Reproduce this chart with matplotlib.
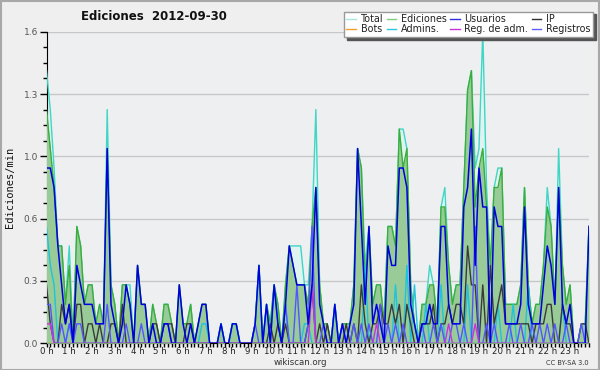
import numpy as np
import matplotlib
matplotlib.use("Agg")
import matplotlib.pyplot as plt
from matplotlib.ticker import MultipleLocator, FixedLocator, FuncFormatter
from matplotlib.patches import Rectangle
from matplotlib.lines import Line2D

# ---- data: counts per 10-minute bin (144 bins, 00:00 .. 23:50) ----
hour_labels = [f"{h} h" for h in range(24)]

total = [14,12,9,5,5,2,5,0,6,5,2,3,
         3,1,2,1,12,3,2,0,3,3,3,0,
         4,2,2,0,2,1,0,2,2,1,0,3,
         1,1,2,0,1,2,2,0,0,0,1,0,
         0,1,1,0,0,0,0,1,4,0,2,1,
         3,2,0,3,5,5,5,5,3,3,6,12,
         3,1,1,0,2,0,1,1,1,3,10,9,
         4,6,2,3,3,1,6,6,5,11,11,10,
         3,1,0,2,2,4,3,1,7,8,4,2,
         3,3,8,13,14,9,10,16,8,4,8,9,
         9,2,2,2,2,3,8,3,1,2,2,4,
         8,6,2,10,4,2,3,0,0,1,1,6]

ediciones = [12,10,8,5,5,2,4,0,6,5,2,3,
             3,1,2,1,10,3,2,0,3,3,2,0,
             4,2,2,0,2,1,0,2,2,1,0,3,
             1,1,2,0,1,2,2,0,0,0,1,0,
             0,1,1,0,0,0,0,1,4,0,2,1,
             3,2,0,3,5,4,3,3,3,2,6,8,
             3,1,1,0,2,0,1,1,1,3,10,9,
             3,6,2,3,3,1,6,6,5,11,9,10,
             3,1,0,2,2,3,3,1,7,7,4,2,
             3,3,8,13,14,7,9,10,7,4,8,8,
             9,2,2,2,2,3,8,3,1,2,2,4,
             7,6,2,8,4,2,3,0,0,1,1,6]

usuarios = [9,9,8,5,3,1,2,0,4,3,2,2,
            2,1,1,1,10,2,1,0,1,3,2,0,
            4,2,2,0,1,0,0,1,1,0,0,3,
            1,0,1,0,1,2,2,0,0,0,1,0,
            0,1,1,0,0,0,0,1,4,0,2,0,
            3,1,0,2,5,4,3,3,3,1,3,8,
            2,1,0,0,2,0,1,0,1,2,10,6,
            2,6,1,2,1,0,5,4,4,9,9,8,
            2,1,0,1,1,2,1,1,6,6,2,1,
            1,1,7,8,11,4,9,7,7,0,7,6,
            6,1,1,1,1,2,7,2,1,1,1,3,
            5,4,2,8,2,1,2,0,0,0,0,6]

ip = [3,1,0,0,2,1,2,0,2,2,0,1,
      1,0,1,0,0,1,1,0,2,0,0,0,
      0,0,0,0,1,1,0,1,1,1,0,0,
      0,1,1,0,0,0,0,0,0,0,0,0,
      0,0,0,0,0,0,0,0,0,0,0,1,
      0,1,0,1,0,0,0,0,0,1,3,0,
      1,0,1,0,0,0,0,1,0,1,0,3,
      1,0,1,1,2,1,1,2,1,2,0,2,
      1,0,0,1,1,1,2,0,1,1,2,1,
      2,2,1,5,3,3,0,3,0,4,1,2,
      3,1,1,1,1,1,1,1,0,1,1,1,
      2,2,0,0,2,1,1,0,0,1,1,0]

bots = [0] * 144

admins = [6,4,3,0,0,0,1,0,0,0,0,0,
          0,0,0,0,0,0,0,0,0,0,0,0,
          0,0,0,0,0,0,0,0,0,0,0,0,
          0,0,0,0,0,1,1,0,0,0,1,0,
          0,1,1,0,0,0,0,1,4,0,2,0,
          3,1,0,2,0,0,0,0,1,1,0,0,
          0,0,0,0,2,0,0,0,0,0,0,0,
          4,0,0,0,0,0,0,0,3,0,0,4,
          0,3,0,0,2,0,0,0,3,0,0,0,
          0,0,0,3,0,0,0,0,0,0,0,2,
          0,0,0,2,0,0,0,3,0,0,0,0,
          0,0,0,0,2,0,0,0,0,0,0,0]

reg_adm = [1,1,0,0,0,0,0,0,0,0,0,0,
           0,0,0,0,0,0,0,0,0,0,0,0,
           0,0,0,0,0,0,0,0,0,0,0,0,
           0,0,0,0,0,0,0,0,0,0,0,0,
           0,0,0,0,0,0,0,0,0,0,0,0,
           0,0,0,0,0,0,0,0,0,0,3,0,
           0,0,0,0,0,0,0,0,0,0,0,0,
           0,0,0,1,0,0,0,0,0,0,0,0,
           0,0,0,0,0,0,0,0,0,0,1,0,
           0,0,0,0,0,1,0,0,0,0,0,0,
           0,0,0,0,0,0,0,0,0,0,0,0,
           0,0,0,0,0,0,0,0,0,0,0,0]

registros = [2,2,0,0,1,0,1,0,1,1,0,0,
             0,0,0,0,2,0,0,0,0,1,0,0,
             0,1,0,0,0,0,0,1,1,0,0,0,
             0,0,0,0,0,0,0,0,0,0,0,0,
             0,0,0,0,0,0,0,1,0,0,0,0,
             0,0,0,2,0,0,3,0,0,1,6,0,
             0,1,0,0,0,0,1,0,0,1,0,1,
             0,1,0,0,2,0,1,0,1,0,1,0,
             0,0,0,1,0,0,1,0,1,0,0,1,
             1,0,1,0,0,6,0,0,1,0,1,0,
             0,0,1,0,0,1,0,0,1,0,1,0,
             1,0,1,0,0,1,0,0,0,1,0,0]

BIN_MIN = 10.0
x = np.arange(len(total))
def per_min(v):
    return np.asarray(v, dtype=float) / BIN_MIN

# ---- figure ----
fig = plt.figure(figsize=(6.0, 3.7), dpi=100, facecolor="#efefef")
ax = fig.add_axes([46.5/600, 1 - 343.3/370, (589 - 46.5)/600, (343.3 - 31.7)/370])
ax.set_facecolor("#eeeff1")

ymax = 1.6
ax.set_xlim(0, len(total) - 1)
ax.set_ylim(0, ymax)

major_y = np.linspace(0, ymax, 6)
ax.yaxis.set_major_locator(FixedLocator(major_y))
ax.yaxis.set_minor_locator(MultipleLocator(ymax / 20))
ax.yaxis.set_major_formatter(FuncFormatter(lambda v, p: f"{v:.1f}"))
ax.grid(axis="y", color="#c8c8c8", linewidth=1.0)
ax.set_axisbelow(True)

ax.xaxis.set_major_locator(FixedLocator(np.arange(0, 144, 6)))
ax.xaxis.set_minor_locator(MultipleLocator(1))
ax.set_xticklabels(hour_labels)

t = per_min(total); e = per_min(ediciones)
ax.fill_between(x, 0, t, color="#dff4f1", lw=0, zorder=2)
ax.plot(x, t, color="#3fd6c6", lw=1.0, zorder=3)
ax.fill_between(x, 0, e, color="#98cb98", lw=0, zorder=4)
ax.plot(x, e, color="#3aae3a", lw=1.0, zorder=5)
ax.plot(x, per_min(admins), color="#1ec3dc", lw=1.0, zorder=6)
ax.plot(x, per_min(bots), color="#f0a030", lw=1.0, zorder=6)
ax.plot(x, per_min(ip), color="#3a3a3a", lw=1.0, zorder=7)
ax.plot(x, per_min(registros), color="#5555ff", lw=1.0, zorder=7)
ax.plot(x, per_min(reg_adm), color="#cc33dd", lw=1.0, zorder=8)
ax.plot(x, per_min(usuarios), color="#0000dd", lw=1.1, zorder=9)

for s in ["top", "right"]:
    ax.spines[s].set_visible(False)
ax.spines["left"].set_color("black")
ax.spines["bottom"].set_color("black")
ax.tick_params(axis="y", which="major", length=5, width=1, colors="black",
               labelsize=6.5, labelcolor="#555555", pad=1)
ax.tick_params(axis="y", which="minor", length=3, width=1, colors="black")
ax.tick_params(axis="x", which="major", length=3, width=1, colors="black",
               labelsize=6.2, labelcolor="#222222", pad=0)
ax.tick_params(axis="x", which="minor", length=3, width=1, colors="black")

ax.set_ylabel("Ediciones/min", family="DejaVu Sans Mono", fontsize=7.5,
              labelpad=6, color="#111111")

fig.text(154/600, 1 - 17/370, "Ediciones  2012-09-30", ha="center", va="center",
         fontsize=8.5, fontweight="bold", color="#111111")

def h(c):
    return Line2D([0], [0], color=c, lw=1.0)
handles = [h("#a6e6dc"), h("#f0a030"), h("#7fcf7f"), h("#30c8e0"),
           h("#3030e0"), h("#cc33dd"), h("#303030"), h("#6060ff")]
labels = ["Total", "Bots", "Ediciones", "Admins.", "Usuarios",
          "Reg. de adm.", "IP", "Registros"]
leg = fig.legend(handles, labels, ncol=4, loc="upper right",
                 bbox_to_anchor=(593/600, 1 - 11.5/370),
                 fontsize=6.9, frameon=True, fancybox=False,
                 shadow={"color": "#555555", "alpha": 1.0},
                 handlelength=1.0, handletextpad=0.5, columnspacing=0.35,
                 labelspacing=0.05, borderpad=0.25, borderaxespad=0)
leg.get_frame().set_facecolor("white")
leg.get_frame().set_edgecolor("#999999")
leg.get_frame().set_linewidth(1.0)
for txt in leg.get_texts():
    txt.set_color("#222222")

fig.text(300/600, 1 - 362.5/370, "wikiscan.org", ha="center", va="center",
         fontsize=6.2, color="#333333")
fig.text(589/600, 1 - 363/370, "CC BY-SA 3.0", ha="right", va="center",
         fontsize=4.8, color="#333333")

fig.patches.append(Rectangle((0.5/600, 0.5/370), 598.5/600, 368.5/370,
                             transform=fig.transFigure, fill=False,
                             edgecolor="#a8a8a8", lw=1.5))

fig.savefig("out.png", dpi=100, facecolor=fig.get_facecolor())
